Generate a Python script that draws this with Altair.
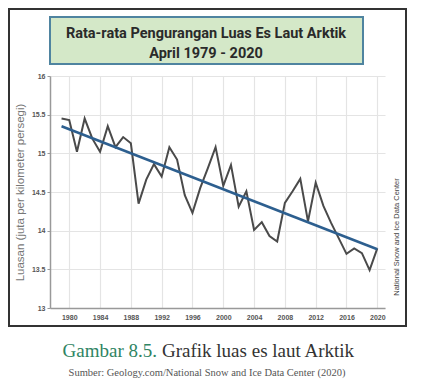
import altair as alt
import pandas as pd

years = list(range(1979, 2021))
extent = [15.45, 15.43, 15.02, 15.45, 15.19, 15.02, 15.35, 15.08, 15.21, 15.13,
          14.35, 14.66, 14.86, 14.70, 15.08, 14.92, 14.46, 14.23, 14.55, 14.81,
          15.08, 14.58, 14.85, 14.31, 14.51, 14.01, 14.11, 13.93, 13.86, 14.36,
          14.51, 14.67, 14.12, 14.62, 14.32, 14.10, 13.90, 13.70, 13.77, 13.71,
          13.49, 13.77]
trend_years = [1979, 2020]
trend_values = [15.35, 13.76]
x_ticks = list(range(1980, 2021, 4))
y_ticks = [13, 13.5, 14, 14.5, 15, 15.5, 16]

title_lines = ["Rata-rata Pengurangan Luas Es Laut Arktik", "April 1979 - 2020"]
y_title = "Luasan (juta per kilometer persegi)"
credit = "National Snow and Ice Data Center"
caption_a = "Gambar 8.5."
caption_b = "Grafik luas es laut Arktik"
source = "Sumber: Geology.com/National Snow and Ice Data Center (2020)"

df = pd.DataFrame({"year": years, "extent": extent})
tdf = pd.DataFrame({"year": trend_years, "extent": trend_values})
one = pd.DataFrame({"a": [0]})

W, H = 335, 232

xs = alt.X("year:Q", scale=alt.Scale(domain=[1977.5, 2021], nice=False, zero=False),
           axis=alt.Axis(values=x_ticks, format="d", title=None, labelFontSize=7,
                         labelColor="#555", labelFont="Liberation Sans",
                         labelFontWeight="bold", tickSize=0, labelPadding=5,
                         labelOverlap=False,
                         domainColor="#999", domainWidth=1.5, gridColor="#e4e4e4",
                         gridWidth=1.2))
ys = alt.Y("extent:Q", scale=alt.Scale(domain=[13, 16], nice=False, zero=False),
           axis=alt.Axis(values=y_ticks, format="~g", title=y_title, labelFontSize=7,
                         labelColor="#555", labelFont="Liberation Sans",
                         labelFontWeight="bold", tickSize=3, tickColor="#999",
                         labelOverlap=False,
                         labelPadding=2, domainColor="#999", domainWidth=1.5,
                         gridColor="#e4e4e4", gridWidth=1.2,
                         titleFont="Liberation Sans", titleFontSize=11.5,
                         titleFontWeight="normal", titleColor="#777",
                         titleX=-30, titleY=116, titleAngle=-90,
                         titleAlign="center", titleBaseline="middle"))

line = alt.Chart(df).mark_line(color="#4a4a4a", strokeWidth=2).encode(x=xs, y=ys)
trend = alt.Chart(tdf).mark_line(color="#2d5f8f", strokeWidth=2.5).encode(x=xs, y=ys)

border = alt.Chart(one).mark_rect(fill=None, stroke="#333", strokeWidth=2).encode(
    x=alt.value(-41), x2=alt.value(356), y=alt.value(-67), y2=alt.value(250))
tbox = alt.Chart(one).mark_rect(fill="#d4e8c8", stroke="#4f84a0", strokeWidth=2).encode(
    x=alt.value(0), x2=alt.value(313), y=alt.value(-59), y2=alt.value(-12))
t1 = alt.Chart(one).mark_text(text=title_lines[0], font="Roboto",
                              fontSize=14.5, fontWeight="bold", color="#2a2a2a",
                              align="center", baseline="alphabetic").encode(
    x=alt.value(156), y=alt.value(-38))
t2 = alt.Chart(one).mark_text(text=title_lines[1], font="Roboto",
                              fontSize=14.5, fontWeight="bold", color="#2a2a2a",
                              align="center", baseline="alphabetic").encode(
    x=alt.value(156), y=alt.value(-18))
cred = alt.Chart(one).mark_text(text=credit, font="Liberation Sans",
                                fontSize=7.5, color="#444", angle=270,
                                align="center", baseline="middle").encode(
    x=alt.value(347), y=alt.value(161))
capa = alt.Chart(one).mark_text(text=caption_a, font="Liberation Serif",
                                fontSize=19, color="#2f8463", align="right",
                                baseline="alphabetic").encode(
    x=alt.value(107), y=alt.value(281))
capb = alt.Chart(one).mark_text(text=caption_b, font="Liberation Serif",
                                fontSize=19, color="#333", align="left",
                                baseline="alphabetic").encode(
    x=alt.value(112), y=alt.value(281))
src = alt.Chart(one).mark_text(text=source, font="Liberation Serif",
                               fontSize=10.5, color="#555", align="center",
                               baseline="alphabetic").encode(
    x=alt.value(157), y=alt.value(300))

chart = alt.layer(line, trend, border, tbox, t1, t2, cred, capa, capb, src).properties(
    width=W, height=H,
    padding={"left": 42, "top": 68, "right": 30, "bottom": 72},
    autosize=alt.AutoSizeParams(type="none"),
    background="white",
).configure_view(stroke=None)

chart.save("out.html", embed_options={"renderer": "svg", "actions": False})
